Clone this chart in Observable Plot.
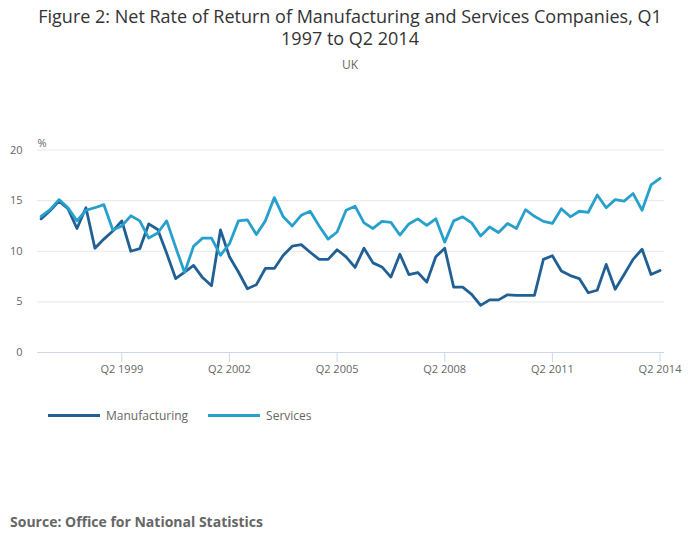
<!DOCTYPE html>
<html><head><meta charset="utf-8">
<script src="https://cdn.jsdelivr.net/npm/d3@7"></script>
<script src="https://cdn.jsdelivr.net/npm/@observablehq/plot@0.6"></script>
<style>
body{margin:0;background:#fff;font-family:"Open Sans",sans-serif;}
#wrap{position:relative;width:700px;height:549px;overflow:hidden;background:#fff}
.title{position:absolute;left:0;top:5px;width:700px;text-align:center;font-size:18px;line-height:22px;color:#333}
.sub{position:absolute;left:0;top:56px;width:700px;text-align:center;font-size:12px;color:#666}
#chart{position:absolute;left:0;top:120px}
.legend{position:absolute;top:407px;left:48px;font-size:12px;color:#666;display:flex;align-items:center}
.legend .item{display:flex;align-items:center;margin-right:20px}
.legend .sw{width:52px;height:3px;margin-right:6px}
.source{position:absolute;left:10px;top:512px;font-size:14px;font-weight:bold;color:#666}
</style>
</head><body>
<div id="wrap">
  <div class="title">Figure 2: Net Rate of Return of Manufacturing and Services Companies, Q1<br>1997 to Q2 2014</div>
  <div class="sub">UK</div>
  <div id="chart"></div>
  <div class="legend">
    <div class="item"><div class="sw" style="background:#206095"></div>Manufacturing</div>
    <div class="item"><div class="sw" style="background:#27a0cc"></div>Services</div>
  </div>
  <div class="source">Source: Office for National Statistics</div>
</div>
<script>
const seriesNames = ["Manufacturing", "Services"];
const seriesColors = ["#206095", "#27a0cc"];
const startYear = 1997;
const manufacturing = [13.2,14.0,14.95,14.2,12.25,14.3,10.3,11.2,12.0,13.0,
  10.0,10.25,12.7,12.15,9.8,7.3,7.95,8.6,7.4,6.6,
  12.1,9.45,7.95,6.3,6.7,8.3,8.3,9.6,10.5,10.65,
  9.9,9.2,9.2,10.15,9.45,8.4,10.3,8.85,8.45,7.45,
  9.7,7.7,7.9,6.95,9.45,10.3,6.45,6.45,5.75,4.65,
  5.2,5.2,5.7,5.65,5.65,5.65,9.2,9.55,8.05,7.6,
  7.3,5.9,6.15,8.7,6.25,7.7,9.2,10.2,7.7,8.1];
const services = [13.45,14.1,15.1,14.3,13.0,14.05,14.3,14.6,12.1,12.5,
  13.5,13.0,11.3,11.8,13.0,10.4,7.9,10.5,11.3,11.3,
  9.6,10.75,13.0,13.1,11.65,13.0,15.3,13.4,12.5,13.55,
  13.95,12.5,11.2,11.9,14.05,14.45,12.8,12.25,12.95,12.85,
  11.6,12.7,13.2,12.55,13.2,10.9,13.0,13.4,12.8,11.5,
  12.4,11.85,12.75,12.25,14.1,13.45,12.95,12.75,14.2,13.4,
  13.95,13.85,15.55,14.3,15.1,14.95,15.7,14.05,16.55,17.2];
const yTicks = [0, 5, 10, 15, 20];
const xTickLabels = ["Q2 1999","Q2 2002","Q2 2005","Q2 2008","Q2 2011","Q2 2014"];

const quarters = manufacturing.map((_, i) => `Q${(i % 4) + 1} ${startYear + Math.floor(i / 4)}`);
const data = [];
[manufacturing, services].forEach((arr, s) => arr.forEach((v, i) => data.push({series: seriesNames[s], i, v})));
const xTickIdx = xTickLabels.map(l => quarters.indexOf(l));

const chart = Plot.plot({
  width: 700, height: 260,
  marginTop: 29.5, marginBottom: 28, marginLeft: 37, marginRight: 36,
  style: {fontFamily: "'Open Sans', sans-serif", fontSize: "11px", background: "transparent"},
  x: {type: "linear", domain: [-0.4, 69.5]},
  y: {domain: [0, 20]},
  color: {domain: seriesNames, range: seriesColors},
  marks: [
    Plot.gridY(yTicks.filter(t => t > 0), {stroke: "#e6e6e6", strokeOpacity: 1}),
    Plot.ruleY([0], {stroke: "#ccd6eb"}),
    Plot.axisY({ticks: yTicks, tickSize: 0, tickPadding: 15, fill: "#666", label: null}),
    Plot.axisX({ticks: xTickIdx, tickFormat: i => quarters[i], tickSize: 10, tickPadding: 3, stroke: "#ccd6eb", fill: "#666", label: null}),
    Plot.text(["%"], {frameAnchor: "top-left", dy: -11, textAnchor: "start", fill: "#666"}),
    Plot.lineY(data, {x: "i", y: "v", z: "series", stroke: "series", strokeWidth: 2.8})
  ]
});
document.getElementById("chart").appendChild(chart);
</script>
</body></html>
